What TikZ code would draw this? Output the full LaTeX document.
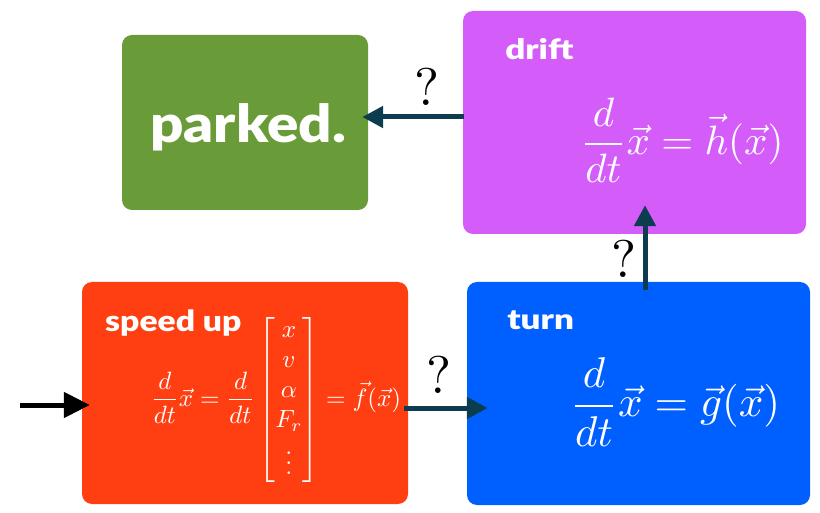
\documentclass[tikz,border=0pt]{standalone}
\usepackage{amsmath}
\usepackage{fontspec}
\newfontfamily\lblfont{Lato Black}
\usetikzlibrary{arrows.meta,calc}

\definecolor{parkgreen}{HTML}{699C38}
\definecolor{driftpink}{HTML}{D45CF8}
\definecolor{speedred}{HTML}{FF3F12}
\definecolor{turnblue}{HTML}{0060FF}
\definecolor{flowteal}{HTML}{0C3C4F}

\begin{document}
\begin{tikzpicture}[x=1pt,y=-1pt,
  statebox/.style={rounded corners=10pt, inner sep=0pt, draw=none},
  title/.style={text=white, inner sep=0pt, font=\lblfont\fontsize{#1}{#1}\selectfont},
  eqn/.style={text=white, inner sep=0pt, scale=#1},
  qmark/.style={text=black, inner sep=0pt, scale=5.3},
  flow/.style={draw=flowteal, line width=5pt, -{Triangle[length=21pt, width=21pt]}},
  entry/.style={draw=black, line width=5pt, -{Triangle[length=26pt, width=25pt]}}
]
\useasboundingbox (0,0) rectangle (820,513);

% state boxes
\node[statebox, fill=parkgreen, minimum width=246pt, minimum height=175pt] (parked) at (245,122.5) {};
\node[statebox, fill=driftpink, minimum width=343pt, minimum height=223pt] (drift) at (634.5,122.5) {};
\node[statebox, fill=speedred, minimum width=326pt, minimum height=222pt] (speed) at (245,393) {};
\node[statebox, fill=turnblue, minimum width=343pt, minimum height=223pt] (turn) at (638.5,393.5) {};

% state titles
\node[title=52, xscale=1.12, anchor=base] (parkedtxt) at (248,143) {parked.};
\node[title=29, xscale=1.16, anchor=base west] (speedtxt) at (105,332) {speed up};
\node[title=28, xscale=1.25, anchor=base west] (drifttxt) at (505,60) {drift};
\node[title=28, xscale=1.25, anchor=base west] (turntxt) at (507,330) {turn};

% dynamics in each state
\node[eqn=2.5] (speedeq) at (276,400)
  {$\displaystyle \frac{d}{dt}\vec{x} = \frac{d}{dt}\begin{bmatrix} x\\ v\\ \alpha\\ F_r\\ \vdots \end{bmatrix} = \vec{f}(\vec{x})$};
\node[eqn=4.3] (turneq) at (675,402)
  {$\displaystyle \frac{d}{dt}\vec{x} = \vec{g}(\vec{x})$};
\node[eqn=4.1] (drifteq) at (682,140)
  {$\displaystyle \frac{d}{dt}\vec{x} = \vec{h}(\vec{x})$};

% transitions
\coordinate (start) at (20,405);
\draw[entry] (start) -- ($(speed.west)+(8,12)$);
\draw[flow] ($(speed.east)+(-4,15)$) -- ($(turn.west)+(21,14.5)$);
\draw[flow] ($(turn.north)+(6.5,8)$) -- ($(drift.south)+(10.5,-29)$);
\draw[flow] ($(drift.west)+(1,-5.5)$) -- ($(parked.east)+(-6,-5.5)$);

% unknown transition conditions
\node[qmark] (q1) at (427,87) {?};
\node[qmark] (q2) at (624,259) {?};
\node[qmark] (q3) at (439,375) {?};
\end{tikzpicture}
\end{document}
